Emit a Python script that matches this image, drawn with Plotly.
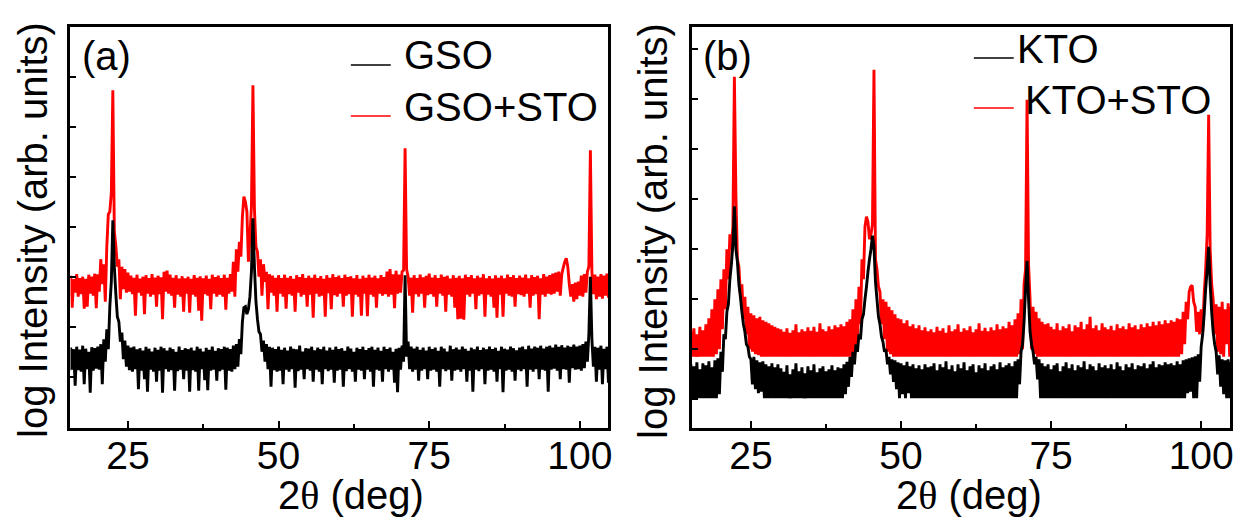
import numpy as np
import plotly.graph_objects as go

# Scan grid shared by all four patterns (2-theta in degrees)
SCAN_START = 15.0
SCAN_STEP = 0.25

# (a) GSO substrate, log intensity (arb. units), one row per 5 degrees
gso = [
    1.52, 1.12, 1.58, 1.14, 1.55, 0.82, 1.60, 1.13, 1.54, 1.10, 1.62, 0.85, 1.56, 1.15, 1.50, 0.68, 1.59, 1.12, 1.57, 1.16,
    1.60, 1.14, 1.65, 0.85, 1.75, 1.30, 1.95, 1.55, 2.40, 2.90, 4.13, 3.20, 2.65, 2.20, 2.10, 1.70, 1.88, 1.35, 1.72, 1.20,
    1.62, 1.13, 1.58, 1.10, 1.60, 1.15, 1.55, 0.75, 1.57, 1.12, 1.52, 0.95, 1.60, 0.70, 1.56, 1.14, 1.50, 1.10, 1.58, 0.90,
    1.54, 1.12, 1.60, 0.68, 1.57, 1.15, 1.52, 1.10, 1.58, 1.13, 1.55, 0.72, 1.50, 1.11, 1.60, 1.14, 1.53, 0.95, 1.57, 1.12,
    1.55, 0.70, 1.58, 1.13, 1.52, 1.10, 1.60, 0.72, 1.56, 1.15, 1.50, 0.93, 1.58, 0.73, 1.54, 1.12, 1.60, 1.14, 1.52, 0.92,
    1.57, 1.11, 1.55, 1.14, 1.60, 0.74, 1.58, 1.12, 1.55, 1.10, 1.62, 1.15, 1.65, 1.20, 1.75, 1.45, 2.10, 2.38, 2.40, 2.25,
    2.35, 2.60, 3.10, 4.17, 3.20, 2.50, 2.15, 1.90, 1.85, 1.50, 1.72, 1.30, 1.65, 1.15, 1.60, 0.80, 1.58, 1.13, 1.55, 1.10,
    1.60, 1.12, 1.54, 0.85, 1.58, 1.14, 1.52, 1.10, 1.60, 1.15, 1.56, 0.78, 1.55, 1.11, 1.62, 1.14, 1.50, 0.95, 1.57, 1.15,
    1.56, 1.12, 1.60, 0.90, 1.53, 1.14, 1.58, 1.10, 1.55, 0.85, 1.60, 1.15, 1.52, 1.11, 1.58, 1.14, 1.54, 0.88, 1.60, 1.12,
    1.55, 1.14, 1.57, 0.80, 1.52, 1.11, 1.60, 1.15, 1.56, 1.10, 1.50, 0.90, 1.58, 1.14, 1.55, 1.12, 1.60, 0.95, 1.53, 1.14,
    1.57, 1.10, 1.60, 0.80, 1.54, 1.14, 1.58, 1.12, 1.52, 0.90, 1.60, 1.15, 1.55, 1.10, 1.58, 1.14, 1.50, 0.88, 1.56, 0.69,
    1.58, 1.14, 1.62, 1.30, 3.03, 1.40, 1.70, 1.15, 1.60, 1.10, 1.56, 1.14, 1.60, 0.92, 1.54, 1.12, 1.58, 1.15, 1.52, 0.95,
    1.60, 1.12, 1.55, 1.14, 1.58, 1.10, 1.52, 0.80, 1.60, 1.15, 1.56, 1.11, 1.50, 1.14, 1.62, 0.92, 1.55, 1.12, 1.58, 1.14,
    1.54, 1.10, 1.60, 1.15, 1.56, 0.90, 1.52, 1.12, 1.58, 0.70, 1.55, 1.14, 1.60, 1.11, 1.53, 1.15, 1.58, 0.85, 1.55, 1.12,
    1.60, 1.14, 1.55, 1.10, 1.58, 0.90, 1.52, 1.15, 1.60, 0.69, 1.56, 1.12, 1.54, 1.14, 1.60, 1.10, 1.57, 0.92, 1.53, 1.14,
    1.58, 1.11, 1.60, 1.15, 1.55, 0.80, 1.62, 1.14, 1.56, 1.10, 1.60, 1.15, 1.58, 0.95, 1.62, 1.14, 1.56, 1.12, 1.60, 0.70,
    1.62, 1.14, 1.58, 1.16, 1.64, 1.12, 1.60, 0.95, 1.63, 1.15, 1.58, 1.14, 1.62, 0.88, 1.60, 1.17, 1.64, 1.14, 1.60, 1.15,
    1.62, 1.12, 1.65, 1.17, 1.70, 1.30, 1.85, 3.00, 1.75, 1.20, 1.60, 0.90, 1.58, 1.14, 1.62, 0.85, 1.56, 1.15, 1.60, 0.88,
    1.55,
]

# (a) GSO+STO
gso_sto = [
    2.98, 2.62, 3.02, 2.38, 2.95, 2.68, 3.05, 2.60, 2.97, 2.65, 3.00, 2.36, 2.96, 2.40, 3.04, 2.66, 3.00, 2.62, 3.06, 2.37,
    3.05, 2.70, 3.35, 2.85, 3.25, 2.50, 3.60, 4.25, 4.30, 4.68, 6.73, 3.90, 3.62, 3.20, 3.35, 2.55, 3.20, 2.75, 3.15, 2.68,
    3.08, 2.70, 3.02, 2.65, 2.98, 2.22, 3.04, 2.68, 2.96, 2.62, 3.00, 2.25, 3.03, 2.66, 2.97, 2.60, 3.05, 2.64, 2.98, 2.40,
    3.02, 2.65, 2.99, 2.15, 3.10, 2.70, 3.12, 2.66, 3.04, 2.62, 2.98, 2.38, 3.03, 2.64, 2.96, 2.60, 3.01, 2.30, 2.97, 2.66,
    3.00, 2.28, 2.96, 2.64, 3.03, 2.60, 2.98, 2.32, 3.01, 2.12, 2.97, 2.65, 3.02, 2.62, 2.96, 2.35, 3.04, 2.66, 2.99, 2.60,
    3.02, 2.64, 2.97, 2.60, 3.04, 2.34, 2.98, 2.66, 3.05, 2.70, 3.30, 2.60, 3.55, 3.10, 3.70, 3.40, 4.20, 4.60, 4.50, 4.30,
    3.30, 3.80, 4.40, 6.83, 4.35, 3.60, 3.50, 3.00, 3.35, 2.62, 3.25, 2.90, 3.10, 2.35, 3.05, 2.68, 3.02, 2.62, 2.98, 2.30,
    3.03, 2.66, 2.97, 2.60, 3.04, 2.36, 2.98, 2.65, 3.01, 2.62, 2.96, 2.30, 3.03, 2.68, 2.99, 2.60, 3.05, 2.64, 2.97, 2.40,
    3.02, 2.64, 2.98, 2.18, 3.04, 2.66, 2.97, 2.60, 3.01, 2.62, 2.96, 2.20, 3.03, 2.67, 2.98, 2.35, 3.05, 2.63, 2.99, 2.60,
    3.02, 2.66, 2.97, 2.40, 3.04, 2.62, 2.99, 2.65, 3.01, 2.20, 2.97, 2.64, 3.03, 2.60, 2.96, 2.22, 3.02, 2.66, 2.98, 2.21,
    3.04, 2.64, 2.98, 2.60, 3.02, 2.38, 2.97, 2.66, 3.03, 2.62, 2.99, 2.65, 3.10, 2.60, 3.15, 2.64, 3.05, 2.37, 3.12, 2.66,
    3.04, 2.68, 3.10, 3.13, 5.57, 3.15, 3.00, 2.62, 2.98, 2.28, 3.03, 2.65, 2.97, 2.60, 3.04, 2.66, 2.99, 2.38, 3.02, 2.63,
    3.06, 2.65, 2.98, 2.60, 3.03, 2.40, 2.97, 2.66, 3.04, 2.62, 3.00, 2.30, 3.02, 2.64, 2.96, 2.60, 3.03, 2.38, 2.98, 2.15,
    3.02, 2.16, 2.97, 2.14, 3.04, 2.64, 2.99, 2.60, 3.03, 2.66, 2.97, 2.35, 3.02, 2.62, 2.98, 2.65, 3.05, 2.20, 2.97, 2.64,
    3.01, 2.60, 2.96, 2.38, 3.03, 2.18, 2.98, 2.64, 3.02, 2.20, 2.97, 2.66, 3.04, 2.62, 2.99, 2.60, 3.03, 2.40, 2.97, 2.65,
    3.02, 2.63, 2.98, 2.60, 3.04, 2.66, 2.97, 2.38, 3.03, 2.62, 2.99, 2.65, 3.02, 2.15, 2.97, 2.64, 3.05, 2.60, 3.00, 2.66,
    3.03, 2.64, 3.06, 2.66, 3.08, 2.70, 3.10, 2.62, 3.05, 3.18, 3.30, 3.37, 3.20, 2.85, 2.60, 2.85, 2.50, 2.88, 2.55, 2.90,
    2.62, 3.02, 2.60, 3.05, 2.68, 3.10, 3.20, 5.53, 3.10, 2.65, 3.04, 2.55, 3.00, 2.60, 3.05, 2.56, 3.02, 2.62, 3.06, 2.58,
    3.00,
]

# (b) KTO substrate
kto = [
    0.70, 0.02, 0.66, 0.02, 0.74, 0.02, 0.60, 0.02, 0.72, 0.02, 0.68, 0.02, 0.76, 0.02, 0.64, 0.02, 0.78, 0.02, 0.82, 0.10,
    0.95, 0.55, 1.30, 1.20, 1.75, 1.90, 2.40, 2.70, 3.10, 3.86, 3.00, 2.75, 2.30, 2.05, 1.75, 1.50, 1.35, 1.10, 1.05, 0.85,
    0.80, 0.30, 0.85, 0.20, 0.78, 0.12, 0.74, 0.15, 0.76, 0.02, 0.70, 0.02, 0.66, 0.02, 0.72, 0.02, 0.64, 0.02, 0.70, 0.02,
    0.62, 0.02, 0.55, 0.02, 0.68, 0.02, 0.50, 0.02, 0.60, 0.02, 0.72, 0.02, 0.56, 0.02, 0.64, 0.02, 0.52, 0.02, 0.66, 0.02,
    0.58, 0.02, 0.70, 0.02, 0.54, 0.02, 0.62, 0.02, 0.66, 0.02, 0.56, 0.02, 0.60, 0.02, 0.68, 0.02, 0.58, 0.02, 0.64, 0.02,
    0.62, 0.02, 0.70, 0.10, 0.75, 0.25, 0.85, 0.45, 0.95, 0.70, 1.10, 0.95, 1.30, 1.20, 1.60, 1.70, 2.00, 2.25, 2.55, 2.80,
    3.00, 3.27, 3.05, 2.35, 2.00, 1.65, 1.50, 1.25, 1.15, 0.95, 1.00, 0.70, 0.85, 0.50, 0.80, 0.35, 0.78, 0.20, 0.74, 0.02,
    0.72, 0.10, 0.68, 0.02, 0.75, 0.12, 0.66, 0.02, 0.70, 0.02, 0.62, 0.02, 0.68, 0.02, 0.60, 0.02, 0.70, 0.02, 0.64, 0.02,
    0.66, 0.02, 0.72, 0.02, 0.58, 0.02, 0.70, 0.02, 0.64, 0.02, 0.76, 0.02, 0.60, 0.02, 0.68, 0.02, 0.56, 0.02, 0.70, 0.02,
    0.62, 0.02, 0.74, 0.02, 0.58, 0.02, 0.66, 0.02, 0.70, 0.02, 0.54, 0.02, 0.68, 0.02, 0.62, 0.02, 0.72, 0.02, 0.58, 0.02,
    0.66, 0.02, 0.70, 0.02, 0.60, 0.02, 0.74, 0.02, 0.64, 0.02, 0.68, 0.02, 0.72, 0.02, 0.66, 0.02, 0.76, 0.02, 0.80, 0.30,
    0.95, 1.10, 1.55, 2.20, 2.77, 2.00, 1.35, 1.10, 0.95, 0.70, 0.85, 0.40, 0.80, 0.02, 0.72, 0.02, 0.66, 0.02, 0.70, 0.02,
    0.60, 0.02, 0.68, 0.02, 0.72, 0.02, 0.56, 0.02, 0.66, 0.02, 0.74, 0.02, 0.62, 0.02, 0.70, 0.02, 0.58, 0.02, 0.68, 0.02,
    0.64, 0.02, 0.76, 0.02, 0.60, 0.02, 0.70, 0.02, 0.66, 0.02, 0.58, 0.02, 0.72, 0.02, 0.64, 0.02, 0.68, 0.02, 0.62, 0.02,
    0.70, 0.02, 0.60, 0.02, 0.74, 0.02, 0.66, 0.02, 0.58, 0.02, 0.70, 0.02, 0.64, 0.02, 0.72, 0.02, 0.60, 0.02, 0.68, 0.02,
    0.66, 0.02, 0.72, 0.02, 0.62, 0.02, 0.70, 0.02, 0.76, 0.02, 0.64, 0.02, 0.70, 0.02, 0.68, 0.02, 0.74, 0.02, 0.70, 0.02,
    0.72, 0.02, 0.68, 0.02, 0.76, 0.02, 0.70, 0.02, 0.78, 0.02, 0.80, 0.12, 0.82, 0.15, 0.84, 0.02, 0.86, 0.02, 0.90, 0.35,
    1.05, 1.30, 1.70, 2.20, 2.60, 3.05, 2.30, 1.75, 1.35, 1.10, 0.95, 0.50, 0.88, 0.25, 0.80, 0.10, 0.78, 0.02, 0.80, 0.02,
    0.74,
]

# (b) KTO+STO
kto_sto = [
    1.35, 0.85, 1.42, 0.85, 1.30, 0.85, 1.45, 0.85, 1.38, 0.85, 1.50, 0.85, 1.62, 0.85, 1.80, 0.85, 2.00, 0.90, 2.20, 1.00,
    2.40, 1.40, 2.60, 1.80, 3.00, 2.40, 3.30, 3.00, 3.45, 6.45, 4.10, 2.80, 2.65, 2.10, 2.30, 1.60, 2.05, 1.30, 1.85, 1.00,
    1.72, 0.95, 1.68, 0.90, 1.62, 0.88, 1.65, 0.85, 1.58, 0.85, 1.55, 0.85, 1.52, 0.85, 1.48, 0.85, 1.45, 0.85, 1.42, 0.85,
    1.40, 0.85, 1.35, 0.85, 1.42, 0.85, 1.33, 0.85, 1.38, 0.85, 1.50, 0.85, 1.34, 0.85, 1.40, 0.85, 1.36, 0.85, 1.44, 0.85,
    1.37, 0.85, 1.45, 0.85, 1.35, 0.85, 1.52, 0.85, 1.40, 0.85, 1.36, 0.85, 1.46, 0.85, 1.40, 0.85, 1.48, 0.85, 1.44, 0.85,
    1.50, 0.85, 1.46, 0.85, 1.55, 0.85, 1.60, 0.85, 1.80, 0.90, 2.00, 1.10, 2.25, 1.50, 2.80, 2.40, 3.45, 3.65, 3.55, 3.20,
    3.30, 3.50, 6.59, 2.80, 2.60, 2.25, 2.15, 1.50, 2.00, 1.20, 1.95, 0.95, 1.85, 0.90, 1.78, 0.85, 1.70, 0.85, 1.62, 0.85,
    1.60, 0.85, 1.52, 0.85, 1.58, 0.85, 1.46, 0.85, 1.50, 0.85, 1.42, 0.85, 1.48, 0.85, 1.38, 0.85, 1.44, 0.85, 1.36, 0.85,
    1.40, 0.85, 1.34, 0.85, 1.45, 0.85, 1.37, 0.85, 1.42, 0.85, 1.33, 0.85, 1.48, 0.85, 1.36, 0.85, 1.40, 0.85, 1.50, 0.85,
    1.35, 0.85, 1.42, 0.85, 1.38, 0.85, 1.46, 0.85, 1.34, 0.85, 1.40, 0.85, 1.52, 0.85, 1.37, 0.85, 1.43, 0.85, 1.36, 0.85,
    1.44, 0.85, 1.38, 0.85, 1.50, 0.85, 1.40, 0.85, 1.46, 0.85, 1.42, 0.85, 1.55, 0.85, 1.48, 0.85, 1.60, 0.85, 1.72, 0.90,
    2.00, 1.00, 2.30, 2.60, 5.99, 2.70, 2.00, 1.00, 1.85, 0.90, 1.75, 0.85, 1.62, 0.85, 1.55, 0.85, 1.50, 0.85, 1.52, 0.85,
    1.45, 0.85, 1.40, 0.85, 1.52, 0.85, 1.38, 0.85, 1.46, 0.85, 1.42, 0.85, 1.50, 0.85, 1.36, 0.85, 1.48, 0.85, 1.44, 0.85,
    1.55, 0.85, 1.40, 0.85, 1.50, 0.85, 1.65, 0.85, 1.42, 0.85, 1.48, 0.85, 1.38, 0.85, 1.52, 0.85, 1.44, 0.85, 1.40, 0.85,
    1.47, 0.85, 1.38, 0.85, 1.50, 0.85, 1.42, 0.85, 1.46, 0.85, 1.40, 0.85, 1.52, 0.85, 1.44, 0.85, 1.48, 0.85, 1.40, 0.85,
    1.50, 0.85, 1.44, 0.85, 1.52, 0.85, 1.46, 0.85, 1.55, 0.85, 1.48, 0.85, 1.56, 0.85, 1.50, 0.85, 1.58, 0.85, 1.52, 0.85,
    1.58, 0.85, 1.55, 0.85, 1.62, 0.85, 1.60, 0.90, 1.75, 1.10, 1.95, 1.60, 2.15, 2.25, 2.28, 1.95, 1.85, 1.35, 1.75, 1.30,
    1.80, 1.35, 2.10, 2.60, 3.30, 5.69, 3.00, 2.30, 2.00, 1.30, 1.90, 0.95, 1.85, 0.90, 1.95, 0.85, 1.80, 1.10, 1.92, 0.85,
    1.85,
]

X_TICKS = [25, 50, 75, 100]
X_MINOR = [37.5, 62.5, 87.5]
TICK_LABELS = ["25", "50", "75", "100"]

two_theta = SCAN_START + SCAN_STEP * np.arange(len(gso))

W, H = 1244, 519
FONT = "Arial, Liberation Sans, sans-serif"
RED = "#ff0000"
BLACK = "#000000"


def px(x):
    return x / W


def py(y):
    return 1 - y / H


fig = go.Figure()

# red patterns first so the bare-substrate curves sit on top
for ys, color, xa, ya in [
    (gso_sto, RED, "x", "y"),
    (gso, BLACK, "x", "y"),
    (kto_sto, RED, "x2", "y2"),
    (kto, BLACK, "x2", "y2"),
]:
    fig.add_trace(go.Scatter(
        x=two_theta, y=ys, mode="lines", xaxis=xa, yaxis=ya,
        line=dict(color=color, width=2.9, simplify=False),
        showlegend=False, hoverinfo="skip",
    ))

common = dict(showline=True, linecolor="black", linewidth=3, mirror=True,
              showgrid=False, zeroline=False, ticks="inside", tickcolor="black")

xcommon = dict(common, tickvals=X_TICKS, ticktext=TICK_LABELS, ticklen=7, tickwidth=2,
               ticklabelstandoff=-9,
               tickfont=dict(family=FONT, size=39, color="black"),
               minor=dict(tickvals=X_MINOR, ticks="inside", ticklen=4, tickwidth=2,
                          tickcolor="black"))

ycommon = dict(common, ticklen=6, tickwidth=2, showticklabels=False)

fig.update_layout(
    width=W, height=H,
    margin=dict(l=0, r=0, t=0, b=0),
    paper_bgcolor="white", plot_bgcolor="white",
    xaxis=dict(xcommon, domain=[px(70.7), px(610)], range=[15.47, 104.68], anchor="y"),
    yaxis=dict(ycommon, domain=[py(427.7), py(26.7)], range=[-0.02, 8.0],
               tickvals=list(range(0, 9)), anchor="x"),
    xaxis2=dict(xcommon, domain=[px(694), px(1234.3)], range=[15.15, 104.86], anchor="y2"),
    yaxis2=dict(ycommon, domain=[py(428.3), py(26.7)], range=[-0.58, 7.45],
                tickvals=list(range(0, 8)), anchor="x2"),
)

annotations = []


def label(text, x, y, size=40, xanchor="left", angle=0):
    annotations.append(dict(
        text=text, x=px(x), y=py(y), xref="paper", yref="paper",
        xanchor=xanchor, yanchor="middle", showarrow=False, textangle=angle,
        font=dict(family=FONT, size=size, color="black"),
    ))


theta_title = "2<span style=\"font-family:Liberation Serif\">θ</span> (deg)"
ytitle = "log Intensity (arb. units)"

label("(a)", 80, 56)
label("(b)", 703, 56)
label("GSO", 403, 55)
label("GSO+STO", 403, 107)
label("KTO", 1018, 49)
label("KTO+STO", 1026, 100)
label(ytitle, 33, 230, xanchor="center", angle=-90)
label(ytitle, 655, 231, xanchor="center", angle=-90)
label(theta_title, 352, 495, xanchor="center")
label(theta_title, 972, 495, xanchor="center")

fig.update_layout(annotations=annotations)

# legend keys
shapes = []
for x0, x1, y, color in [
    (352, 392, 65, BLACK),
    (352, 392, 116, RED),
    (977, 1017, 58, BLACK),
    (977, 1017, 108, RED),
]:
    shapes.append(dict(type="line", xref="paper", yref="paper",
                       x0=px(x0), x1=px(x1), y0=py(y), y1=py(y),
                       line=dict(color=color, width=1.5)))
fig.update_layout(shapes=shapes)

fig.write_html("out.html")
